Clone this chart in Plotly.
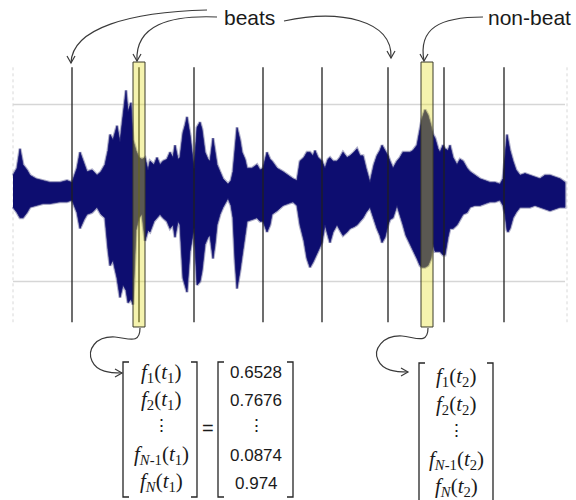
import plotly.graph_objects as go

# ---------------------------------------------------------------
# Audio excerpt: amplitude envelope of the waveform
# time in seconds, amplitude normalised to the +/-0.5 grid levels
# ---------------------------------------------------------------
time_s = [0.00, 0.04, 0.07, 0.10, 0.14, 0.17, 0.23, 0.30, 0.37, 0.47, 0.54, 0.59,
          0.64, 0.67, 0.71, 0.74, 0.79, 0.84, 0.88, 0.92, 0.95, 0.97, 1.00, 1.04,
          1.07, 1.10, 1.13, 1.15, 1.18, 1.20, 1.23, 1.26, 1.29, 1.32, 1.35, 1.37,
          1.41, 1.44, 1.47, 1.50, 1.54, 1.57, 1.60, 1.62, 1.65, 1.67, 1.70, 1.72,
          1.74, 1.77, 1.79, 1.81, 1.84, 1.87, 1.89, 1.92, 1.95, 1.97, 2.00, 2.02,
          2.04, 2.07, 2.10, 2.15, 2.18, 2.20, 2.22, 2.24, 2.27, 2.29, 2.32, 2.34,
          2.39, 2.44, 2.47, 2.50, 2.54, 2.57, 2.59, 2.64, 2.70, 2.75, 2.80, 2.84,
          2.87, 2.91, 2.94, 2.97, 3.00, 3.02, 3.05, 3.09, 3.12, 3.15, 3.17, 3.20,
          3.24, 3.27, 3.30, 3.34, 3.37, 3.41, 3.44, 3.47, 3.50, 3.53, 3.57, 3.61,
          3.64, 3.67, 3.69, 3.72, 3.75, 3.77, 3.80, 3.84, 3.87, 3.90, 3.93, 3.97,
          4.00, 4.04, 4.07, 4.09, 4.12, 4.15, 4.18, 4.20, 4.22, 4.25, 4.27, 4.30,
          4.32, 4.35, 4.37, 4.40, 4.44, 4.47, 4.50, 4.54, 4.57, 4.62, 4.67, 4.72,
          4.77, 4.82, 4.87, 4.90, 4.92, 4.94, 4.95, 4.97, 5.00, 5.03, 5.07, 5.12,
          5.17, 5.22, 5.27, 5.32, 5.37, 5.42, 5.47, 5.52]

env_upper = [0.10, 0.14, 0.25, 0.16, 0.13, 0.10, 0.08, 0.07, 0.06, 0.06, 0.07, 0.06,
             0.14, 0.23, 0.16, 0.12, 0.13, 0.10, 0.12, 0.16, 0.24, 0.33, 0.30, 0.38,
             0.29, 0.42, 0.58, 0.46, 0.51, 0.30, 0.24, 0.20, 0.19, 0.20, 0.13, 0.18,
             0.16, 0.20, 0.16, 0.18, 0.19, 0.23, 0.20, 0.27, 0.19, 0.20, 0.34, 0.38,
             0.43, 0.33, 0.24, 0.14, 0.37, 0.40, 0.36, 0.23, 0.19, 0.18, 0.31, 0.24,
             0.16, 0.12, 0.08, 0.05, 0.07, 0.12, 0.24, 0.37, 0.30, 0.23, 0.19, 0.14,
             0.14, 0.16, 0.13, 0.14, 0.23, 0.19, 0.18, 0.14, 0.12, 0.10, 0.08, 0.07,
             0.18, 0.20, 0.23, 0.23, 0.21, 0.24, 0.20, 0.18, 0.14, 0.19, 0.20, 0.18,
             0.18, 0.20, 0.23, 0.20, 0.21, 0.23, 0.25, 0.21, 0.21, 0.14, 0.06, 0.16,
             0.21, 0.24, 0.27, 0.24, 0.21, 0.18, 0.14, 0.18, 0.20, 0.23, 0.23, 0.23,
             0.24, 0.27, 0.36, 0.42, 0.47, 0.44, 0.38, 0.33, 0.31, 0.25, 0.23, 0.27,
             0.25, 0.24, 0.27, 0.20, 0.16, 0.19, 0.18, 0.14, 0.12, 0.10, 0.08, 0.07,
             0.06, 0.06, 0.05, 0.08, 0.20, 0.33, 0.30, 0.24, 0.18, 0.13, 0.10, 0.11,
             0.10, 0.09, 0.08, 0.10, 0.10, 0.09, 0.08, 0.06]

env_lower = [-0.08, -0.11, -0.14, -0.14, -0.11, -0.08, -0.07, -0.06, -0.06, -0.05, -0.05, -0.04,
             -0.11, -0.20, -0.15, -0.12, -0.11, -0.08, -0.12, -0.14, -0.32, -0.41, -0.38, -0.48,
             -0.59, -0.52, -0.55, -0.62, -0.60, -0.63, -0.21, -0.14, -0.12, -0.27, -0.21, -0.22,
             -0.16, -0.14, -0.12, -0.14, -0.16, -0.20, -0.18, -0.25, -0.16, -0.18, -0.48, -0.52,
             -0.56, -0.33, -0.27, -0.20, -0.52, -0.50, -0.44, -0.29, -0.25, -0.24, -0.37, -0.29,
             -0.18, -0.12, -0.08, -0.03, -0.07, -0.14, -0.38, -0.54, -0.44, -0.37, -0.24, -0.16,
             -0.15, -0.14, -0.16, -0.16, -0.22, -0.18, -0.12, -0.10, -0.07, -0.06, -0.05, -0.07,
             -0.18, -0.27, -0.37, -0.42, -0.39, -0.37, -0.33, -0.28, -0.18, -0.24, -0.28, -0.22,
             -0.18, -0.21, -0.24, -0.22, -0.20, -0.19, -0.18, -0.16, -0.14, -0.11, -0.08, -0.15,
             -0.20, -0.24, -0.28, -0.25, -0.18, -0.15, -0.14, -0.07, -0.12, -0.18, -0.24, -0.28,
             -0.32, -0.37, -0.41, -0.42, -0.42, -0.41, -0.37, -0.29, -0.33, -0.33, -0.33, -0.35,
             -0.35, -0.25, -0.20, -0.20, -0.18, -0.15, -0.12, -0.11, -0.08, -0.07, -0.07, -0.06,
             -0.05, -0.05, -0.04, -0.07, -0.12, -0.21, -0.22, -0.20, -0.14, -0.11, -0.08, -0.08,
             -0.08, -0.07, -0.08, -0.09, -0.10, -0.09, -0.08, -0.08]

# detected beat positions (s) and the two highlighted analysis frames (s)
beat_times = [0.59, 1.26, 1.81, 2.50, 3.09, 3.75, 4.31, 4.91]
frame_beat = [1.20, 1.32]
frame_nonbeat = [4.08, 4.20]
grid_levels = [0.5, -0.5]

# feature vectors of the two frames
rows_t1 = ["<i>f</i><sub>1</sub>(<i>t</i><sub>1</sub>)",
           "<i>f</i><sub>2</sub>(<i>t</i><sub>1</sub>)",
           "\u22ee",
           "<i>f</i><sub><i>N</i>-1</sub>(<i>t</i><sub>1</sub>)",
           "<i>f</i><sub><i>N</i></sub>(<i>t</i><sub>1</sub>)"]
values_t1 = ["0.6528", "0.7676", "\u22ee", "0.0874", "0.974"]
rows_t2 = ["<i>f</i><sub>1</sub>(<i>t</i><sub>2</sub>)",
           "<i>f</i><sub>2</sub>(<i>t</i><sub>2</sub>)",
           "\u22ee",
           "<i>f</i><sub><i>N</i>-1</sub>(<i>t</i><sub>2</sub>)",
           "<i>f</i><sub><i>N</i></sub>(<i>t</i><sub>2</sub>)"]

# ---------------------------------------------------------------
W, H = 576, 500
X_RANGE = [-0.13, 5.63]
Y_RANGE = [-1.7345, 1.0904]
LINE_TOP, LINE_BOT = 0.71, -0.73
FRAME_TOP, FRAME_BOT = 0.74, -0.757
NAVY = "#0d0d70"
INK = "#262626"


def px(x):
    return x / W


def py(y):
    return 1 - y / H


def path(cmds):
    """SVG path in paper units; each command gets exactly one point set (given in pixels)."""
    out = []
    for c, pts in cmds:
        coords = [f"{px(pts[i]):.5f},{py(pts[i + 1]):.5f}" for i in range(0, len(pts), 2)]
        out.append(c + " " + " ".join(coords))
    return " ".join(out)


fig = go.Figure()

# soft halo around the waveform (thin spikes at the edges)
fig.add_trace(go.Scatter(
    x=time_s + time_s[::-1],
    y=env_upper + env_lower[::-1],
    fill="toself", fillcolor=NAVY,
    line=dict(color="rgba(95,95,150,0.5)", width=3.0),
    mode="lines", hoverinfo="skip", showlegend=False))
# waveform envelope body
fig.add_trace(go.Scatter(
    x=time_s + time_s[::-1],
    y=env_upper + env_lower[::-1],
    fill="toself", fillcolor=NAVY,
    line=dict(color="rgba(30,30,120,0.9)", width=0.8),
    mode="lines", hoverinfo="skip", showlegend=False))

# beat markers
bx, by = [], []
for t in beat_times:
    bx += [t, t, None]
    by += [LINE_TOP, LINE_BOT, None]
fig.add_trace(go.Scatter(x=bx, y=by, mode="lines",
                         line=dict(color="#202020", width=1.3),
                         hoverinfo="skip", showlegend=False))

shapes = []
# grid levels
for g in grid_levels:
    shapes.append(dict(type="line", xref="x", yref="y", x0=time_s[0], x1=time_s[-1],
                       y0=g, y1=g, line=dict(color="#d6d6d6", width=1.5), layer="below"))
# faint axis frame edges
for t in [time_s[0], time_s[-1] + 0.02]:
    shapes.append(dict(type="line", xref="x", yref="y", x0=t, x1=t,
                       y0=LINE_TOP, y1=LINE_BOT,
                       line=dict(color="#d8d8d8", width=1, dash="dot"), layer="below"))
# highlighted frames
for f in [frame_beat, frame_nonbeat]:
    shapes.append(dict(type="rect", xref="x", yref="y", x0=f[0], x1=f[1],
                       y0=FRAME_BOT, y1=FRAME_TOP, fillcolor="rgb(228,222,30)",
                       opacity=0.36, line=dict(width=0), layer="above"))
    shapes.append(dict(type="rect", xref="x", yref="y", x0=f[0], x1=f[1],
                       y0=FRAME_BOT, y1=FRAME_TOP, fillcolor="rgba(0,0,0,0)",
                       line=dict(color="#3a3a2a", width=1), layer="above"))

arrow_line = dict(color="#3a3a3a", width=1.2)

# curved callouts from the labels
curves = [
    [("M", [207, 10]), ("C", [130, 12, 72, 28, 71, 63])],
    [("M", [217, 17]), ("C", [170, 15, 135, 25, 137, 61])],
    [("M", [284, 21]), ("C", [340, 9, 393, 20, 391, 58])],
    [("M", [483, 17]), ("C", [440, 17, 418, 28, 424, 61])],
    [("M", [140, 328]), ("C", [140, 345, 128, 338, 115, 337]),
     ("C", [95, 336, 87, 350, 92, 361]), ("C", [97, 372, 110, 373, 122, 373])],
    [("M", [428, 328]), ("C", [428, 345, 415, 337, 402, 336]),
     ("C", [382, 335, 373, 350, 378, 360]), ("C", [383, 371, 396, 372, 408, 372])],
]
for c in curves:
    shapes.append(dict(type="path", xref="paper", yref="paper", path=path(c),
                       line=arrow_line))

# arrow heads (open V)
heads = [
    (71, 63, "down"), (137, 61, "down"), (391, 58, "down"), (424, 61, "down"),
    (122, 373, "right"), (408, 372, "right"),
]
for x, y, d in heads:
    if d == "down":
        a, b = (x - 4, y - 7), (x + 4, y - 7)
    else:
        a, b = (x - 7, y - 4), (x - 7, y + 4)
    shapes.append(dict(type="path", xref="paper", yref="paper",
                       path=path([("M", list(a)), ("L", [x, y]), ("L", list(b))]),
                       line=arrow_line))


# matrix brackets
def bracket(left, right, top, bottom, tick=6):
    return [
        path([("M", [left + tick, top]), ("L", [left, top]),
              ("L", [left, bottom]), ("L", [left + tick, bottom])]),
        path([("M", [right - tick, top]), ("L", [right, top]),
              ("L", [right, bottom]), ("L", [right - tick, bottom])]),
    ]


for p in (bracket(123, 197, 362, 497) + bracket(218, 293, 362, 497)
          + bracket(419, 493, 363, 506)):
    shapes.append(dict(type="path", xref="paper", yref="paper", path=p,
                       line=dict(color=INK, width=1.3)))

annotations = []


def label(text, x, y, size, family="Liberation Sans, Arial, sans-serif", anchor="center"):
    annotations.append(dict(text=text, x=px(x), y=py(y), xref="paper", yref="paper",
                            xanchor=anchor, yanchor="middle", showarrow=False,
                            font=dict(size=size, family=family, color="#1a1a1a")))


label("beats", 222, 17, 21, anchor="left")
label("non-beat", 486, 17, 21, anchor="left")

SERIF = "Liberation Serif, Times New Roman, serif"
DOTS = "DejaVu Serif, serif"
rows_y1 = [373, 400, 425, 455, 482]
vals_y1 = [372, 400, 425, 455, 483]
rows_y2 = [377, 405, 430, 460, 487]
for txt, y in zip(rows_t1, rows_y1):
    if txt == "\u22ee":
        label(txt, 161, y, 17, family=DOTS)
    else:
        label(txt, 161, y, 21, family=SERIF)
for txt, y in zip(values_t1, vals_y1):
    if txt == "\u22ee":
        label(txt, 256, y, 17, family=DOTS)
    else:
        label(txt, 256, y, 17)
for txt, y in zip(rows_t2, rows_y2):
    if txt == "\u22ee":
        label(txt, 456, y, 17, family=DOTS)
    else:
        label(txt, 456, y, 21, family=SERIF)
label("=", 208, 428, 20)

fig.update_layout(
    width=W, height=H,
    margin=dict(l=0, r=0, t=0, b=0),
    paper_bgcolor="white", plot_bgcolor="white",
    xaxis=dict(range=X_RANGE, visible=False, fixedrange=True),
    yaxis=dict(range=Y_RANGE, visible=False, fixedrange=True),
    shapes=shapes, annotations=annotations,
    showlegend=False,
)

fig.write_html("out.html")
